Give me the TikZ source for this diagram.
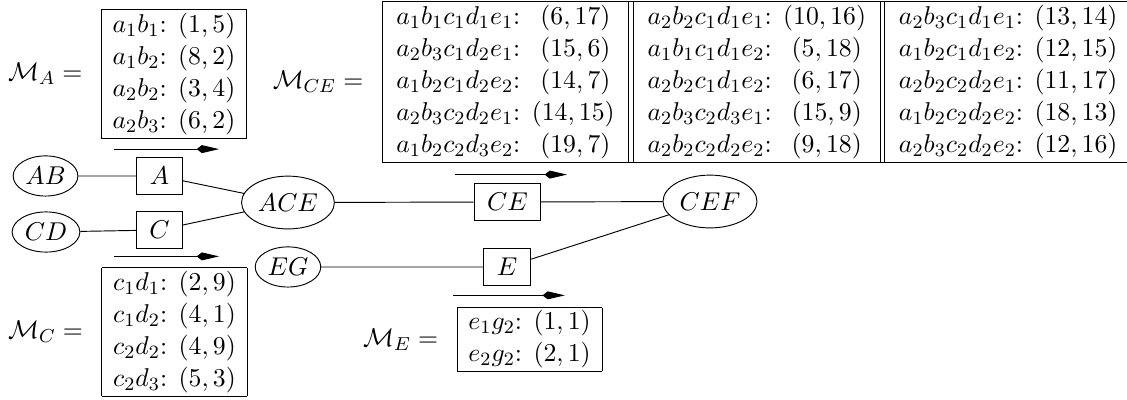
\documentclass[tikz,border=0pt,11pt]{standalone}
\usetikzlibrary{positioning,shapes.geometric,arrows.meta}
\begin{document}
\begin{tikzpicture}[>={Kite[length=9.5pt,width=3.4pt,inset=2.2pt]},
    clique/.style={ellipse,draw,inner xsep=1.2pt,inner ysep=2.3pt},
    separator/.style={draw,inner xsep=5.5pt,inner ysep=4.3pt},
    msgtab/.style={inner sep=0pt,execute at begin node={\setlength{\tabcolsep}{4.8pt}}}]
\useasboundingbox (0,0) rectangle (16.856,-5.968);

% cliques and separators
\node[clique] (AB) at (0.681,-2.632) {$AB$};
\node[clique] (CD) at (0.688,-3.470) {$CD$};
\node[clique,inner ysep=4.2pt] (ACE) at (4.307,-3.029) {$ACE$};
\node[clique,inner ysep=4.2pt] (CEF) at (10.619,-3.014) {$CEF$};
\node[clique] (EG) at (4.307,-3.993) {$EG$};
\node[separator] (A) at (2.386,-2.632) {$A$};
\node[separator] (C) at (2.386,-3.440) {$C$};
\node[separator] (CE) at (7.590,-3.021) {$CE$};
\node[separator] (E) at (7.583,-3.993) {$E$};

\draw (AB)--(A)--(ACE);
\draw (CD)--(C)--(ACE);
\draw (ACE)--(CE)--(CEF);
\draw (EG)--(E)--(CEF);

% message directions
\draw[->] ([shift={(-0.68,0.112)}]A.north)--+(1.57,0);
\draw[->] ([shift={(-0.68,-0.105)}]C.south)--+(1.57,0);
\draw[->] ([shift={(-0.785,0.12)}]CE.north)--+(1.675,0);
\draw[->] ([shift={(-0.81,-0.135)}]E.south)--+(1.675,0);

% messages
\node[msgtab] (mA) at (2.602,-1.107) {\begin{tabular}{|l|}\hline
$a_1b_1$: $(1,5)$\\
$a_1b_2$: $(8,2)$\\
$a_2b_2$: $(3,4)$\\
$a_2b_3$: $(6,2)$\\\hline
\end{tabular}};
\node[left=4pt of mA] (labA) {$\mathcal{M}_A =$};

\node[msgtab] (mC) at (2.610,-4.966) {\begin{tabular}{|l|}\hline
$c_1d_1$: $(2,9)$\\
$c_1d_2$: $(4,1)$\\
$c_2d_2$: $(4,9)$\\
$c_2d_3$: $(5,3)$\\\hline
\end{tabular}};
\node[left=4pt of mC] (labC) {$\mathcal{M}_C =$};

\node[msgtab] (mE) at (7.920,-5.078) {\begin{tabular}{|l|}\hline
$e_1g_2$: $(1,1)$\\
$e_2g_2$: $(2,1)$\\\hline
\end{tabular}};
\node[left=4pt of mE] (labE) {$\mathcal{M}_E =$};

\node[msgtab,execute at begin node={\setlength{\tabcolsep}{6pt}}] (mCE) at (11.32,-1.226) {\begin{tabular}{|l||l||l|}\hline
$a_1b_1c_1d_1e_1$: \ $(6,17)$ & $a_2b_2c_1d_1e_1$: $(10,16)$ & $a_2b_3c_1d_1e_1$: $(13,14)$\\
$a_2b_3c_1d_2e_1$: \ $(15,6)$ & $a_1b_1c_1d_1e_2$: \ $(5,18)$ & $a_1b_2c_1d_1e_2$: $(12,15)$\\
$a_1b_2c_1d_2e_2$: \ $(14,7)$ & $a_2b_2c_1d_1e_2$: \ $(6,17)$ & $a_2b_2c_2d_2e_1$: $(11,17)$\\
$a_2b_3c_2d_2e_1$: $(14,15)$ & $a_2b_3c_2d_3e_1$: \ $(15,9)$ & $a_1b_2c_2d_2e_2$: $(18,13)$\\
$a_1b_2c_2d_3e_2$: \ $(19,7)$ & $a_2b_2c_2d_2e_2$: \ $(9,18)$ & $a_2b_3c_2d_2e_2$: $(12,16)$\\\hline
\end{tabular}};
\node[left=4pt of mCE] (labCE) {$\mathcal{M}_{CE} =$};
\end{tikzpicture}
\end{document}
